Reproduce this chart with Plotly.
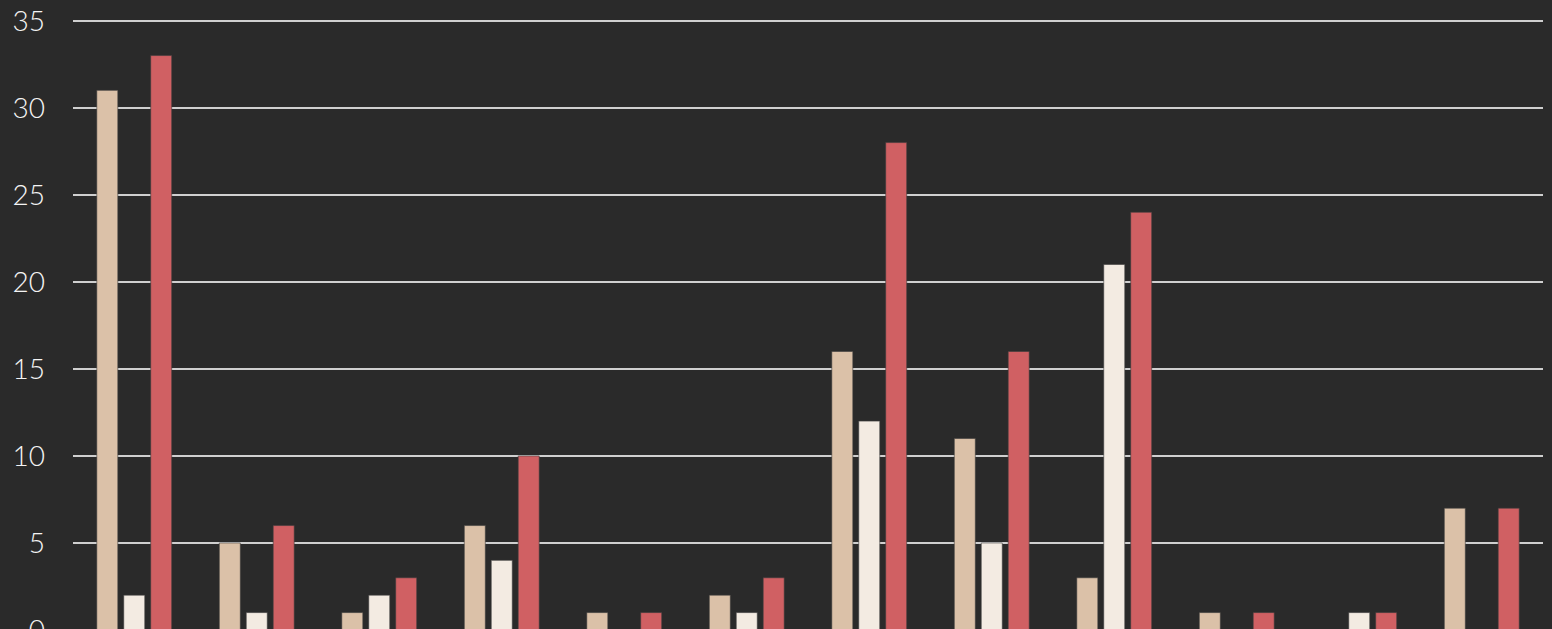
import plotly.graph_objects as go

# twelve unnamed groups, three series each
groups = [f'g{i}' for i in range(1, 13)]
series_a = [31, 5, 1, 6, 1, 2, 16, 11, 3, 1, 0, 7]
series_b = [2, 1, 2, 4, 0, 1, 12, 5, 21, 0, 1, 0]
series_c = [33, 6, 3, 10, 1, 3, 28, 16, 24, 1, 1, 7]
y_ticks = [0, 5, 10, 15, 20, 25, 30, 35]

colors = ['#dbc1a8', '#f3ebe2', '#d06063']

fig = go.Figure()
for name, vals, col in [('A', series_a, colors[0]), ('B', series_b, colors[1]), ('C', series_c, colors[2])]:
    fig.add_trace(go.Bar(x=groups, y=vals, name=name,
                         marker=dict(color=col, line=dict(color='rgba(60,60,60,0.6)', width=1))))

fig.update_xaxes(showticklabels=False, showgrid=False, zeroline=False, showline=False, automargin=False)
fig.update_yaxes(range=[0, 35.1], tickvals=y_ticks, showgrid=True, gridcolor='#cfcfcf', gridwidth=1.5,
                 zeroline=False, showline=False, ticklabelstandoff=27, ticklabeloverflow='allow',
                 automargin=False,
                 tickfont=dict(family='Lato', size=28, color='#f4f4f4', weight=300))
fig.update_layout(width=1552, height=630, autosize=False,
                  margin=dict(l=73, r=9, t=19, b=0),
                  paper_bgcolor='#2a2a2a', plot_bgcolor='#2a2a2a',
                  barmode='group', bargap=0.34, bargroupgap=0.22,
                  showlegend=False)

# drop the default page margin so the figure sits at the window corner
fig.write_html("out.html", config={'displayModeBar': False},
               post_script="document.body.style.margin='0';document.body.style.background='#2a2a2a';")
